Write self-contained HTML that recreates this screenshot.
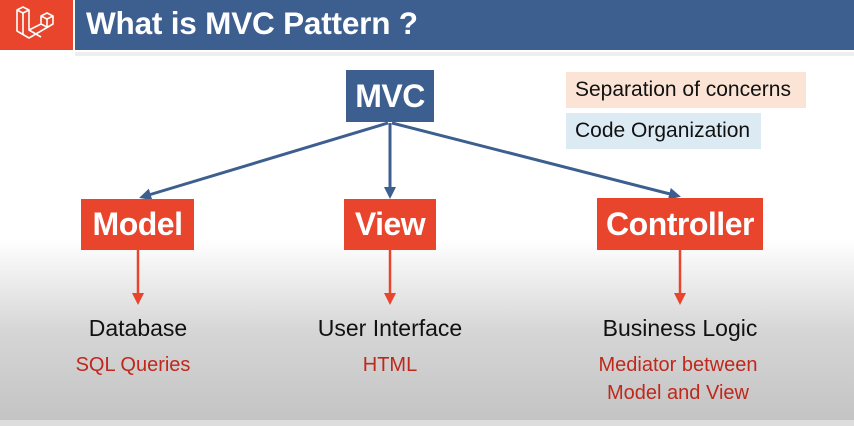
<!DOCTYPE html>
<html><head><meta charset="utf-8"><style>
*{margin:0;padding:0;box-sizing:border-box}
body{width:854px;height:426px;overflow:hidden;position:relative;font-family:"Liberation Sans",sans-serif;background:linear-gradient(#fff 0,#fff 240px,#d6d6d6 330px,#c4c4c4 420px)}
.a{position:absolute}
.box{position:absolute;color:#fff;font-weight:bold;font-size:32px;display:flex;align-items:center;justify-content:center;letter-spacing:-0.5px}
.lbl{position:absolute;text-align:center;font-size:23px;color:#111;width:280px}
.red{position:absolute;text-align:center;font-size:20px;color:#c0281c;width:280px;line-height:28px}
</style></head><body>
<div class="a" style="left:0;top:0;width:73px;height:50px;background:#e8452c"></div>
<svg class="a" style="left:14px;top:4px" width="46" height="42" viewBox="0 0 46 42" fill="none" stroke="#fff" stroke-width="1.6" stroke-linejoin="round">
<path d="M3 6 L9 3 L15 6 L15 26 L27 20 L27 12 L33 9 L39 12 L39 20 L27 27 L15 34 L3 27 Z M3 6 L9 9 L15 6 M9 9 L9 30 M27 12 L33 15 L39 12 M33 15 L33 23 M15 26 L27 33 M27 20 L33 23"/></svg>
<div class="a" style="left:75px;top:0;width:779px;height:50px;background:#3d5f8f"></div>
<div class="a" style="left:86px;top:5px;color:#fff;font-weight:bold;font-size:31.5px;letter-spacing:-0.2px">What is MVC Pattern ?</div>
<div class="a" style="left:75px;top:52px;width:779px;height:4px;background:#eee"></div>
<div class="box" style="left:346px;top:70px;width:88px;height:52px;background:#3d5f8f;font-size:32px">MVC</div>
<div class="a" style="left:566px;top:72px;width:240px;height:36px;background:#fbe4d5;font-size:21px;padding:6px 0 0 9px;color:#111;white-space:nowrap">Separation of concerns</div>
<div class="a" style="left:566px;top:113px;width:195px;height:36px;background:#dceaf4;font-size:21px;padding:6px 0 0 9px;color:#111;white-space:nowrap">Code Organization</div>
<svg class="a" style="left:0;top:0" width="854" height="426">
<defs><marker id="b" markerWidth="12" markerHeight="12" refX="9" refY="6" orient="auto" markerUnits="userSpaceOnUse"><path d="M0 0 L12 6 L0 12 Z" fill="#3d5f8f"/></marker>
<marker id="r" markerWidth="12" markerHeight="12" refX="9" refY="6" orient="auto" markerUnits="userSpaceOnUse"><path d="M0 0 L12 6 L0 12 Z" fill="#e8452c"/></marker></defs>
<g stroke="#3d5f8f" stroke-width="3" fill="none">
<line x1="388" y1="123" x2="142" y2="197" marker-end="url(#b)"/>
<line x1="390" y1="123" x2="390" y2="196" marker-end="url(#b)"/>
<line x1="392" y1="123" x2="678" y2="196" marker-end="url(#b)"/>
</g>
<g stroke="#e8452c" stroke-width="2.5">
<line x1="138" y1="250" x2="138" y2="302" marker-end="url(#r)"/>
<line x1="390" y1="250" x2="390" y2="302" marker-end="url(#r)"/>
<line x1="680" y1="250" x2="680" y2="302" marker-end="url(#r)"/>
</g></svg>
<div class="box" style="left:81px;top:199px;width:113px;height:51px;background:#e8452c">Model</div>
<div class="box" style="left:344px;top:199px;width:92px;height:51px;background:#e8452c">View</div>
<div class="box" style="left:597px;top:198px;width:166px;height:52px;background:#e8452c">Controller</div>
<div class="lbl" style="left:-2px;top:315px">Database</div>
<div class="lbl" style="left:250px;top:315px">User Interface</div>
<div class="lbl" style="left:540px;top:315px">Business Logic</div>
<div class="red" style="left:-7px;top:351px">SQL Queries</div>
<div class="red" style="left:250px;top:351px">HTML</div>
<div class="red" style="left:538px;top:351px">Mediator between<br>Model and View</div>
<div class="a" style="left:0;top:420px;width:854px;height:6px;background:#ddd"></div>
</body></html>
